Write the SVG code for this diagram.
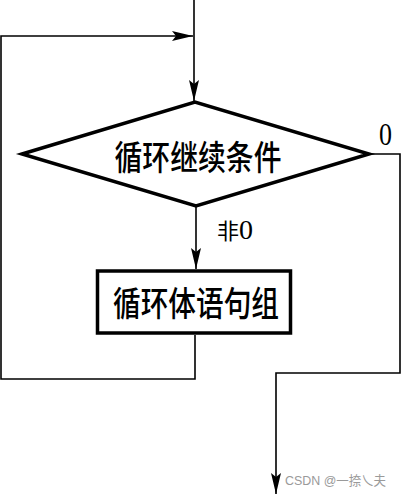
<svg xmlns="http://www.w3.org/2000/svg" width="401" height="496" viewBox="0 0 401 496">
<style>
.conn{fill:none;stroke:#000;stroke-width:1.6}
.shape{fill:#fff;stroke:#000;stroke-width:3.5;stroke-linejoin:miter}
.cjk{font-family:"Noto Sans CJK SC","Liberation Sans",sans-serif;fill:#000;font-weight:500}
.lbl{font-family:"Liberation Serif","Noto Sans CJK SC",serif;fill:#000}
.wm{font-family:"Liberation Sans","Noto Sans CJK SC",sans-serif;fill:#9a9a9a}
</style>
<defs>
<marker id="arr" markerUnits="userSpaceOnUse" markerWidth="22" markerHeight="12" refX="21" refY="5" orient="auto" viewBox="0 0 22 10">
<path d="M0,0 L21,5 L0,10 L4,5 z" fill="#000"/>
</marker>
</defs>
<rect width="401" height="496" fill="#fff"/>
<g id="connectors">
<path class="conn" d="M194,0 V101" marker-end="url(#arr)"/>
<path class="conn" d="M195,335 V379 H1 V36 H193" marker-end="url(#arr)"/>
<path class="conn" d="M196,206 V269" marker-end="url(#arr)"/>
<path class="conn" d="M369,154 H400 V373 H276 V494" marker-end="url(#arr)"/>
</g>
<g id="cond">
<polygon class="shape" points="22,154 195,102 369,154 196,206"/>
<text class="cjk" x="198" y="170" font-size="34" text-anchor="middle" textLength="167" lengthAdjust="spacingAndGlyphs">循环继续条件</text>
</g>
<g id="body">
<rect class="shape" x="97.5" y="271" width="193" height="62"/>
<text class="cjk" x="196" y="316" font-size="34" text-anchor="middle" textLength="166" lengthAdjust="spacingAndGlyphs">循环体语句组</text>
</g>
<g id="labels">
<text class="lbl" x="379" y="145" font-size="32" textLength="13" lengthAdjust="spacingAndGlyphs">0</text>
<text class="lbl" y="239"><tspan x="217" font-size="22" font-family="Noto Sans CJK SC, sans-serif">非</tspan><tspan x="239" font-size="28">0</tspan></text>
</g>
<text class="wm" x="285" y="485" font-size="13" textLength="101" lengthAdjust="spacingAndGlyphs">CSDN @一捺乀夫</text>
</svg>
